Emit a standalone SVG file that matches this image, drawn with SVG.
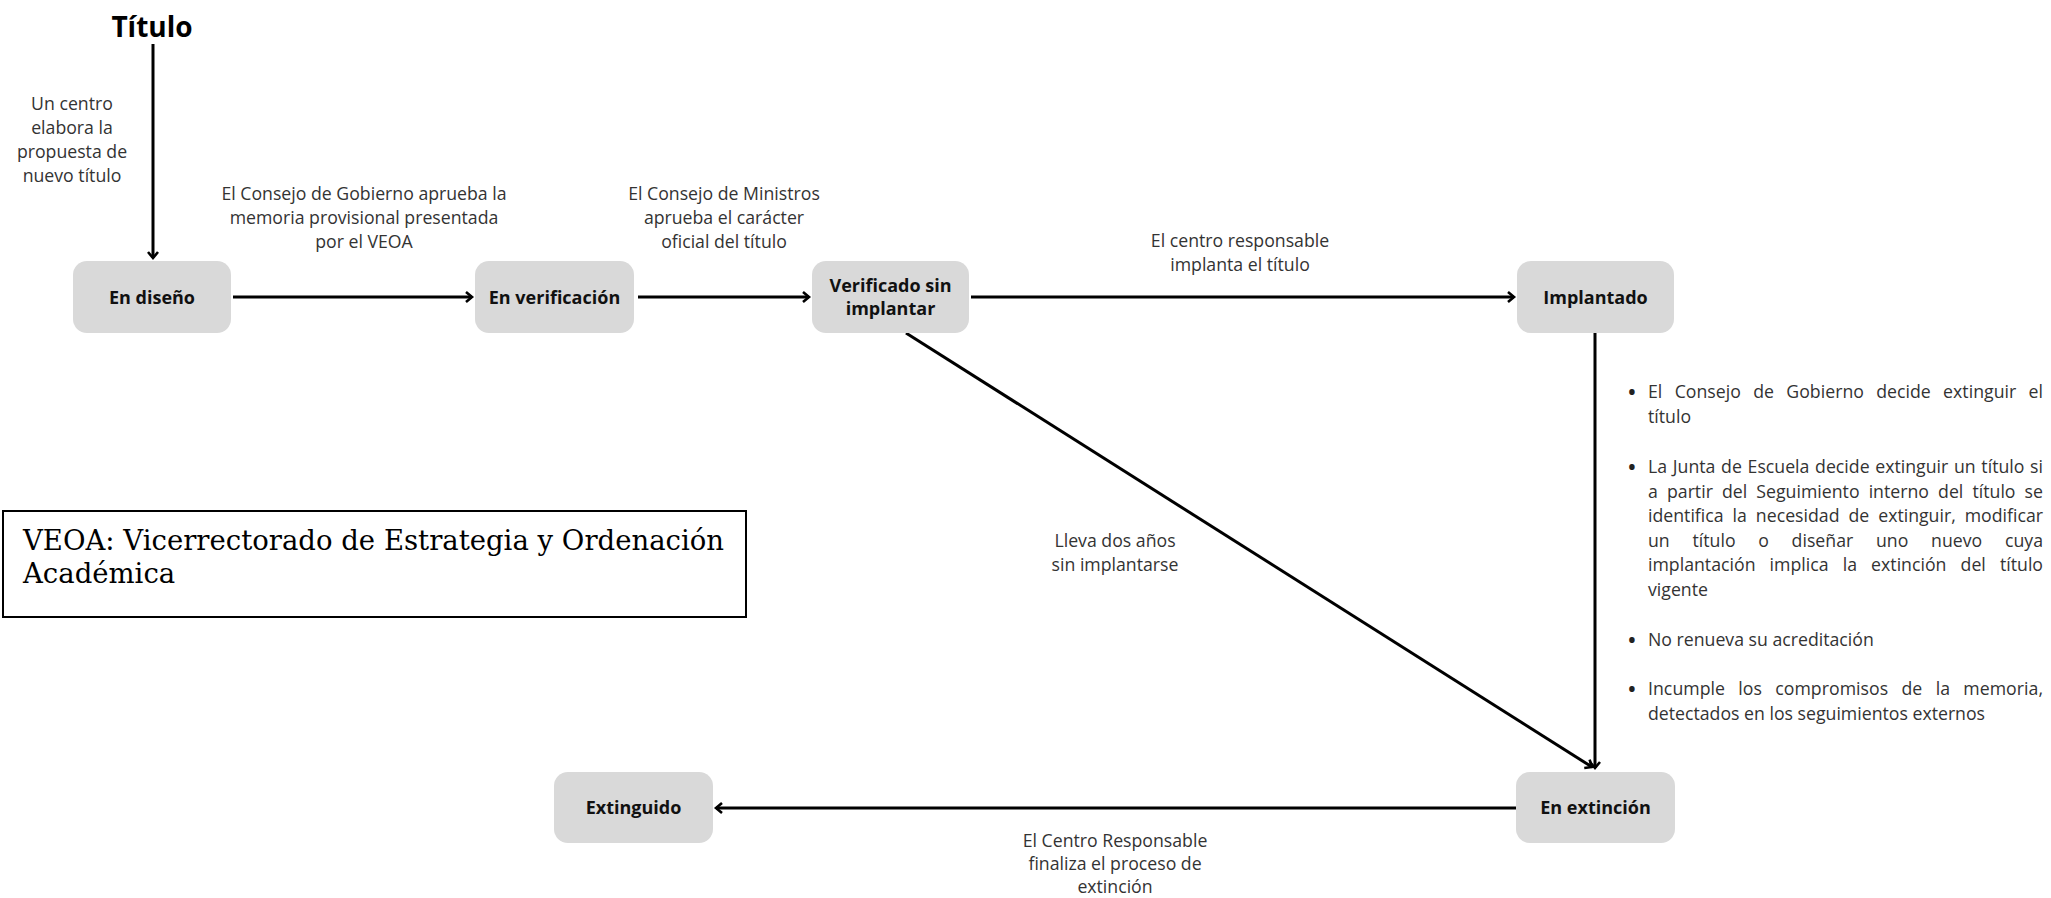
<svg xmlns="http://www.w3.org/2000/svg" width="2051" height="898" viewBox="0 0 2051 898">
<style>
  .node rect { fill: #d9d9d9; stroke: none; }
  .nl { font-family: "Open Sans", "Liberation Sans", sans-serif; font-weight: bold; font-size: 18px; fill: #111; text-anchor: middle; }
  .lbl { font-family: "Open Sans", "Liberation Sans", sans-serif; font-size: 17.7px; fill: #333; text-anchor: middle; }
  .bul { font-family: "Open Sans", "Liberation Sans", sans-serif; font-size: 17.7px; fill: #333; }
  .dot { font-family: "Open Sans", "Liberation Sans", sans-serif; font-size: 26px; fill: #222; }
  .title { font-family: "Open Sans", "Liberation Sans", sans-serif; font-weight: bold; font-size: 28px; fill: #000; text-anchor: middle; }
  .conn line { stroke: #000; stroke-width: 3; fill: none; }
  .veoa { font-family: "DejaVu Serif", "Liberation Serif", serif; font-size: 27.5px; fill: #000; }
</style>
<defs>
  <marker id="arr" markerUnits="userSpaceOnUse" markerWidth="14" markerHeight="14" viewBox="-8 -7 10 14" refX="0" refY="0" orient="auto">
    <path d="M-6,-5 L0,0 L-6,5" fill="none" stroke="#000" stroke-width="2.6" stroke-linejoin="miter"/>
  </marker>
</defs>
<rect width="2051" height="898" fill="#fff"/>

<g id="title">
  <text class="title" x="152" y="37">Título</text>
</g>

<g id="connectors" class="conn">
  <line x1="153" y1="44" x2="153" y2="258" marker-end="url(#arr)"/>
  <line x1="233" y1="297" x2="472" y2="297" marker-end="url(#arr)"/>
  <line x1="638" y1="297" x2="809" y2="297" marker-end="url(#arr)"/>
  <line x1="971" y1="297" x2="1514" y2="297" marker-end="url(#arr)"/>
  <line x1="1595" y1="333" x2="1595" y2="768" stroke-width="2.5" marker-end="url(#arr)"/>
  <line x1="906" y1="333" x2="1592" y2="767" stroke-width="2.5" marker-end="url(#arr)"/>
  <line x1="1516" y1="808" x2="716" y2="808" marker-end="url(#arr)"/>
</g>

<g id="labels">
  <text class="lbl" x="72" y="110">Un centro</text>
  <text class="lbl" x="72" y="134">elabora la</text>
  <text class="lbl" x="72" y="158">propuesta de</text>
  <text class="lbl" x="72" y="182">nuevo título</text>

  <text class="lbl" x="364" y="200">El Consejo de Gobierno aprueba la</text>
  <text class="lbl" x="364" y="224">memoria provisional presentada</text>
  <text class="lbl" x="364" y="248">por el VEOA</text>

  <text class="lbl" x="724" y="200">El Consejo de Ministros</text>
  <text class="lbl" x="724" y="224">aprueba el carácter</text>
  <text class="lbl" x="724" y="248">oficial del título</text>

  <text class="lbl" x="1240" y="247">El centro responsable</text>
  <text class="lbl" x="1240" y="271">implanta el título</text>

  <text class="lbl" x="1115" y="547">Lleva dos años</text>
  <text class="lbl" x="1115" y="571">sin implantarse</text>

  <text class="lbl" x="1115" y="847">El Centro Responsable</text>
  <text class="lbl" x="1115" y="870">finaliza el proceso de</text>
  <text class="lbl" x="1115" y="893">extinción</text>
</g>

<g id="conditions">
  <text class="dot" x="1627" y="401">•</text>
  <text class="bul" x="1648" y="398" word-spacing="7.7" textLength="395" lengthAdjust="spacing">El Consejo de Gobierno decide extinguir el</text>
  <text class="bul" x="1648" y="422.5">título</text>

  <text class="dot" x="1627" y="476">•</text>
  <text class="bul" x="1648" y="473" word-spacing="1.1" textLength="395" lengthAdjust="spacing">La Junta de Escuela decide extinguir un título si</text>
  <text class="bul" x="1648" y="497.5" word-spacing="4.5" textLength="395" lengthAdjust="spacing">a partir del Seguimiento interno del título se</text>
  <text class="bul" x="1648" y="522" word-spacing="4.4" textLength="395" lengthAdjust="spacing">identifica la necesidad de extinguir, modificar</text>
  <text class="bul" x="1648" y="546.5" word-spacing="18.1" textLength="395" lengthAdjust="spacing">un título o diseñar uno nuevo cuya</text>
  <text class="bul" x="1648" y="571" word-spacing="9.5" textLength="395" lengthAdjust="spacing">implantación implica la extinción del título</text>
  <text class="bul" x="1648" y="595.5">vigente</text>

  <text class="dot" x="1627" y="649">•</text>
  <text class="bul" x="1648" y="646">No renueva su acreditación</text>

  <text class="dot" x="1627" y="698">•</text>
  <text class="bul" x="1648" y="695" word-spacing="8.7" textLength="395" lengthAdjust="spacing">Incumple los compromisos de la memoria,</text>
  <text class="bul" x="1648" y="719.5">detectados en los seguimientos externos</text>
</g>

<g id="n-diseno" class="node">
  <rect x="73" y="261" width="158" height="72" rx="14"/>
  <text class="nl" x="152" y="303.5">En diseño</text>
</g>
<g id="n-verificacion" class="node">
  <rect x="475" y="261" width="159" height="72" rx="14"/>
  <text class="nl" x="554.5" y="303.5">En verificación</text>
</g>
<g id="n-verificado" class="node">
  <rect x="812" y="261" width="157" height="72" rx="14"/>
  <text class="nl" x="890.5" y="292">Verificado sin</text>
  <text class="nl" x="890.5" y="315">implantar</text>
</g>
<g id="n-implantado" class="node">
  <rect x="1517" y="261" width="157" height="72" rx="14"/>
  <text class="nl" x="1595.5" y="303.5">Implantado</text>
</g>
<g id="n-extincion" class="node">
  <rect x="1516" y="772" width="159" height="71" rx="14"/>
  <text class="nl" x="1595.5" y="814">En extinción</text>
</g>
<g id="n-extinguido" class="node">
  <rect x="554" y="772" width="159" height="71" rx="14"/>
  <text class="nl" x="633.5" y="814">Extinguido</text>
</g>

<g id="legend">
  <rect x="3" y="511" width="743" height="106" fill="#fff" stroke="#000" stroke-width="2"/>
  <text class="veoa" x="23" y="550" textLength="701" lengthAdjust="spacing">VEOA: Vicerrectorado de Estrategia y Ordenación</text>
  <text class="veoa" x="23" y="583">Académica</text>
</g>
</svg>
